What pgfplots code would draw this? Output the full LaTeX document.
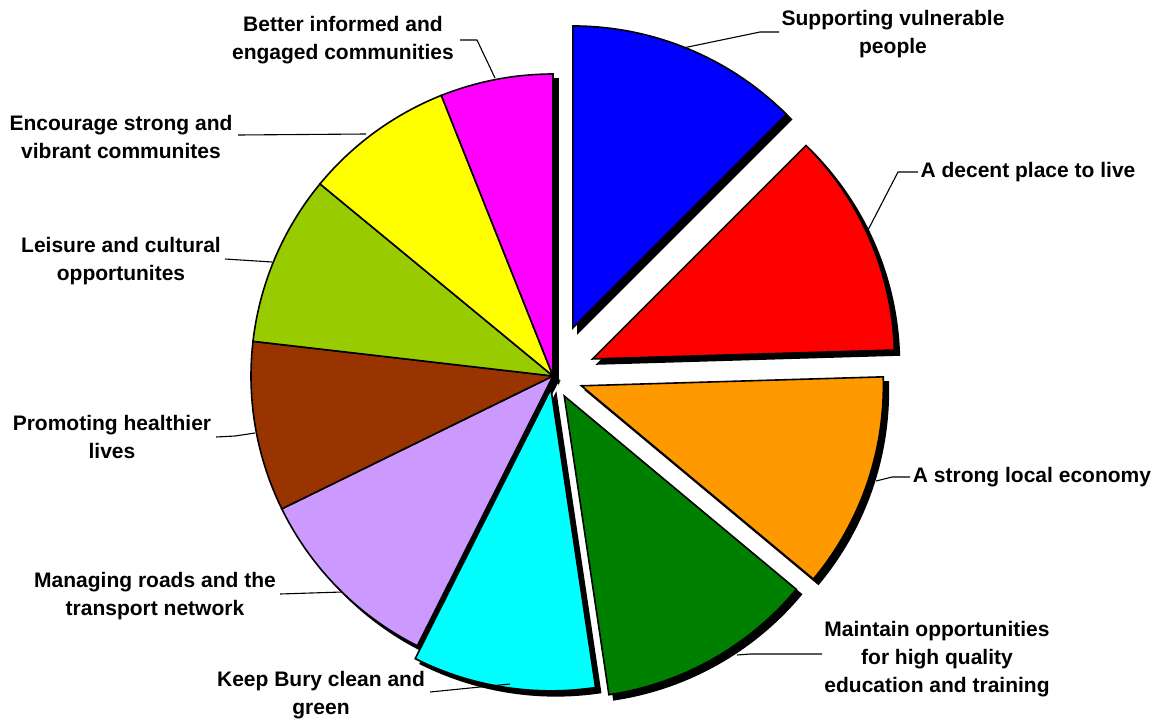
\documentclass[border=0pt]{standalone}
\usepackage{pgfplots}
\pgfplotsset{compat=1.18}
\usepackage{fontspec}
\setmainfont{Liberation Sans}
\definecolor{cBlue}{HTML}{0000FF}
\definecolor{cRed}{HTML}{FF0000}
\definecolor{cOrange}{HTML}{FF9900}
\definecolor{cGreen}{HTML}{008000}
\definecolor{cCyan}{HTML}{00FFFF}
\definecolor{cLav}{HTML}{CC99FF}
\definecolor{cBrown}{HTML}{993300}
\definecolor{cYG}{HTML}{99CC00}
\definecolor{cYellow}{HTML}{FFFF00}
\definecolor{cMag}{HTML}{FF00FF}
% slice: #1 start angle, #2 end angle (clockwise from 12 o'clock), #3 explode (px), #4 colour, #5 shift x, #6 shift y
\newcommand\slice[6]{%
  \pgfmathsetmacro\midang{(#1+#2)/2}%
  \pgfmathsetmacro\cx{553+#5+#3*sin(\midang)}%
  \pgfmathsetmacro\cy{376+#6-#3*cos(\midang)}%
  \edef\temp{\noexpand\addplot[fill=#4, draw=black, line width=1.6pt, line join=miter, domain=#1:#2, samples=90]
    ({\cx+302*sin(x)}, {\cy-302*cos(x)}) -- (\cx,\cy) -- cycle;}%
  \temp
}
\newcommand\lbl{\fontsize{21}{28}\selectfont\bfseries}
\begin{document}
\begin{tikzpicture}
\begin{axis}[width=1163pt, height=720pt, scale only axis,
  xmin=0, xmax=1163, ymin=0, ymax=720, y dir=reverse,
  hide axis, clip=false]
\addplot[draw=none] coordinates {(0,0) (1163,720)};
% shadows
\slice{0}{45}{52}{black}{5}{5}
\slice{45}{88.3}{43}{black}{5}{5}
\slice{88.3}{129.8}{30}{black}{5}{5}
\slice{129.8}{171.5}{23}{black}{5}{5}
\slice{171.5}{206.7}{13}{black}{5}{5}
\slice{206.7}{243.9}{0}{black}{5}{5}
\slice{243.9}{276.6}{0}{black}{5}{5}
\slice{276.6}{309.5}{0}{black}{5}{5}
\slice{309.5}{338.3}{0}{black}{5}{5}
\slice{338.3}{360}{0}{black}{5}{5}
% slices
\slice{0}{45}{52}{cBlue}{0}{0}
\slice{45}{88.3}{43}{cRed}{0}{0}
\slice{88.3}{129.8}{30}{cOrange}{0}{0}
\slice{129.8}{171.5}{23}{cGreen}{0}{0}
\slice{171.5}{206.7}{13}{cCyan}{0}{0}
\slice{206.7}{243.9}{0}{cLav}{0}{0}
\slice{243.9}{276.6}{0}{cBrown}{0}{0}
\slice{276.6}{309.5}{0}{cYG}{0}{0}
\slice{309.5}{338.3}{0}{cYellow}{0}{0}
\slice{338.3}{360}{0}{cMag}{0}{0}
% leader lines
\addplot[black, line width=1.1pt] coordinates {(683,48) (760,32) (779,32)};
\addplot[black, line width=1.1pt] coordinates {(867,232) (898,172) (918,172)};
\addplot[black, line width=1.1pt] coordinates {(876,481) (892,477) (910,477)};
\addplot[black, line width=1.1pt] coordinates {(737,655) (750,654) (822,654)};
\addplot[black, line width=1.1pt] coordinates {(430,692) (470,688) (510,684)};
\addplot[black, line width=1.1pt] coordinates {(280,594) (342,592)};
\addplot[black, line width=1.1pt] coordinates {(216,437) (235,436) (255,433)};
\addplot[black, line width=1.1pt] coordinates {(225,259) (272,262)};
\addplot[black, line width=1.1pt] coordinates {(238,135) (366,134)};
\addplot[black, line width=1.1pt] coordinates {(460,40) (477,40) (495,78)};
% labels
\node[align=center, font=\lbl] at (axis cs:893,34) {Supporting vulnerable\\people};
\node[align=center, font=\lbl] at (axis cs:1028,172) {A decent place to live};
\node[align=center, font=\lbl] at (axis cs:1032,477) {A strong local economy};
\node[align=center, font=\lbl] at (axis cs:937,659) {Maintain opportunities\\for high quality\\education and training};
\node[align=center, font=\lbl] at (axis cs:321,695) {Keep Bury clean and\\green};
\node[align=center, font=\lbl] at (axis cs:155,596) {Managing roads and the\\transport network};
\node[align=center, font=\lbl] at (axis cs:112,437) {Promoting healthier\\lives};
\node[align=center, font=\lbl] at (axis cs:121,261) {Leisure and cultural\\opportunites};
\node[align=center, font=\lbl] at (axis cs:121,137) {Encourage strong and\\vibrant communites};
\node[align=center, font=\lbl] at (axis cs:343,40) {Better informed and\\engaged communities};
\end{axis}
\end{tikzpicture}
\end{document}
